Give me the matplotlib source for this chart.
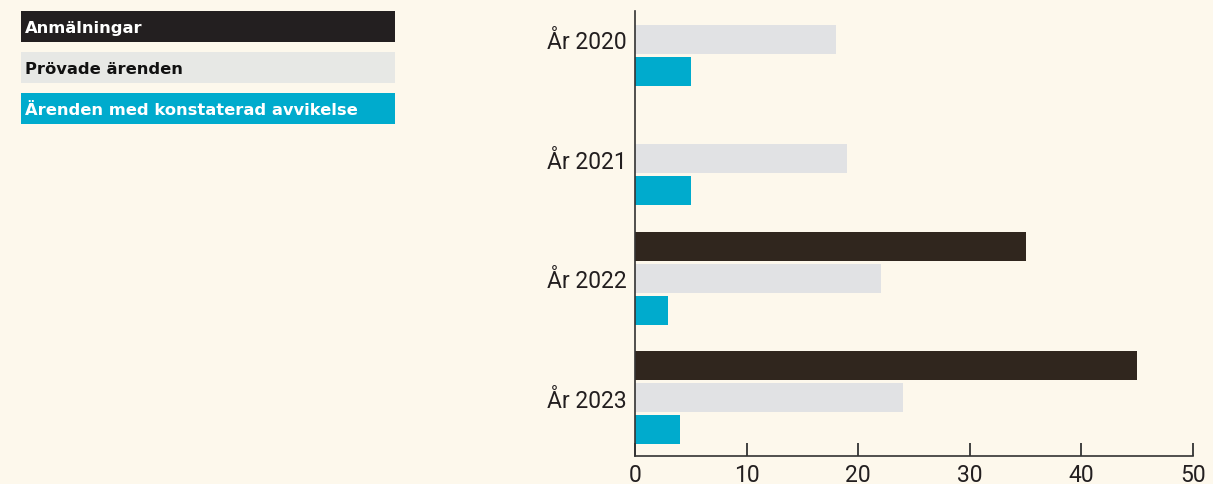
import os
import numpy as np
import matplotlib
import matplotlib.pyplot as plt
from matplotlib.patches import Rectangle
from matplotlib.font_manager import FontProperties

# data
years = ["År 2020", "År 2021", "År 2022", "År 2023"]
anmalningar = [0, 0, 35, 45]
provade = [18, 19, 22, 24]
avvikelse = [5, 5, 3, 4]
serie_namn = ["Anmälningar", "Prövade ärenden", "Ärenden med konstaterad avvikelse"]

bg = "#fdf8ec"
c_svart = "#30261e"
c_gra = "#e1e2e4"
c_bla = "#00abcd"

W, H = 1213, 485
fig = plt.figure(figsize=(W / 100, H / 100), dpi=100, facecolor=bg)
ax = fig.add_axes([635 / W, 1 - 457 / H, (1193 - 635) / W, (457 - 12) / H])
ax.set_facecolor(bg)

y = np.arange(len(years))
step = 32 / 120
h = 29 / 120
ax.barh(y - step, anmalningar, height=h, color=c_svart)
ax.barh(y, provade, height=h, color=c_gra)
ax.barh(y + step, avvikelse, height=h, color=c_bla)

ax.set_ylim(3 + 58.5 / 120, -28.5 / 120)
ax.set_xlim(0, 50)
ax.set_xticks([0, 10, 20, 30, 40, 50])
ax.set_yticks(y)
ax.set_yticklabels(years)

for s in ["top", "right"]:
    ax.spines[s].set_visible(False)
for s in ["left", "bottom"]:
    ax.spines[s].set_color("#333333")
    ax.spines[s].set_linewidth(1.2)

ax.tick_params(axis="y", length=0, pad=6, labelsize=16.5, labelcolor="#231f20")
ax.tick_params(axis="x", direction="in", length=9.5, width=1.3, color="#333333",
               pad=5, labelsize=16.5, labelcolor="#231f20")
for lab in ax.get_xticklabels() + ax.get_yticklabels():
    lab.set_family(["Roboto", "DejaVu Sans"])

# legend as coloured boxes top left
fet = FontProperties(fname=os.path.join(matplotlib.get_data_path(), "fonts/ttf/DejaVuSans-Bold.ttf"),
                     size=11.8)
box_farg = ["#231f20", "#e7e8e5", c_bla]
text_farg = ["white", "#111111", "white"]
tops = [12, 53, 94]
for namn, bf, tf, t in zip(serie_namn, box_farg, text_farg, tops):
    fig.add_artist(Rectangle((21 / W, 1 - (t + 31) / H), (395 - 21) / W, 31 / H,
                             transform=fig.transFigure, color=bf, lw=0))
    fig.text(25 / W, 1 - (t + 16.5) / H, namn, color=tf, fontproperties=fet,
             va="center", ha="left")

fig.savefig("out.png", dpi=100, facecolor=bg)
